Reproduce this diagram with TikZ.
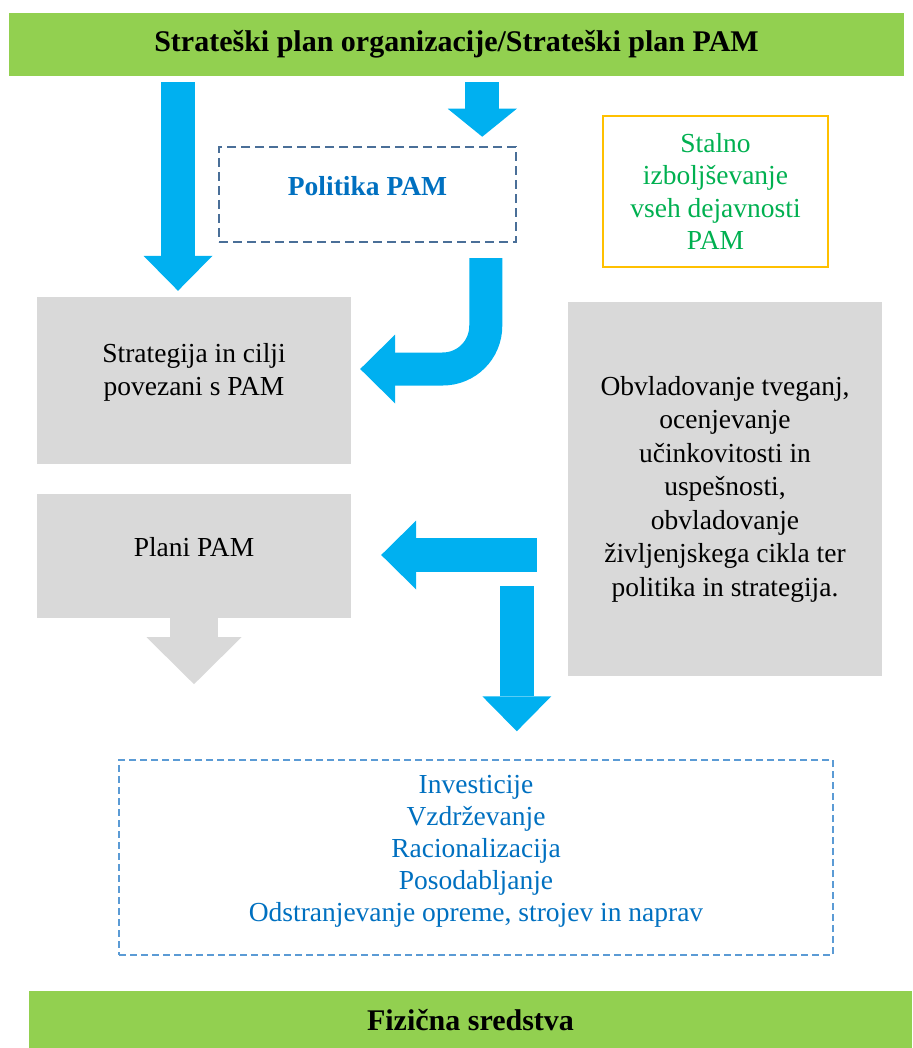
\documentclass[tikz,border=0pt]{standalone}
\usepackage{fontspec}
\setmainfont{Liberation Serif}
\usetikzlibrary{arrows.meta,calc}

\definecolor{pamgreen}{HTML}{92D050}
\definecolor{pamblue}{HTML}{00B0F0}
\definecolor{pamgray}{HTML}{D9D9D9}
\definecolor{pamslate}{HTML}{4A6F98}
\definecolor{pamtext}{HTML}{0070C0}
\definecolor{pamlightblue}{HTML}{5B9BD5}
\definecolor{pamgold}{HTML}{FFC000}
\definecolor{pamtextgreen}{HTML}{00B050}

\begin{document}
\begin{tikzpicture}[x=1pt,y=-1pt,
  bar/.style={fill=pamgreen,inner sep=0pt,font=\fontsize{30}{36}\selectfont\bfseries},
  graybox/.style={fill=pamgray,inner sep=0pt},
  boxtext/.style={align=center,font=\fontsize{27.5}{33}\selectfont},
  blockarrow/.style={draw=pamblue,line width=34pt,-{Triangle[length=#1,width=69pt,line width=0pt]}},
  blockarrow/.default=35pt,
  grayarrow/.style={draw=pamgray,line width=48pt,-{Triangle[length=47pt,width=95pt,line width=0pt]}}]
\useasboundingbox (0,0) rectangle (912,1048);

% Green bars
\node[bar,minimum width=895pt,minimum height=63pt] (plan) at (456.5,44.5) {Strateški plan organizacije/Strateški plan PAM};
\node[bar,minimum width=883pt,minimum height=59pt] (sredstva) at (470.5,1020.5) {Fizična sredstva};

% Policy and improvement boxes
\node[draw=pamslate,line width=2.5pt,dash pattern=on 9pt off 5pt,minimum width=297pt,minimum height=95pt] (politika) at (367.5,194.5) {};
\node[text=pamtext,font=\fontsize{27.5}{33}\selectfont\bfseries] (politika-text) at ([yshift=8pt]politika.center) {Politika PAM};
\node[draw=pamgold,line width=2.5pt,minimum width=225pt,minimum height=151pt,boxtext,text=pamtextgreen,font=\fontsize{27.5}{32.5}\selectfont] (stalno) at (715.5,191.5) {Stalno\\izboljševanje\\vseh dejavnosti\\PAM};

% Gray boxes
\node[graybox,minimum width=314pt,minimum height=167pt] (strategija) at (194,380.5) {};
\node[boxtext] (strategija-text) at ([yshift=8pt]strategija.center) {Strategija in cilji\\povezani s PAM};
\node[graybox,minimum width=314pt,minimum height=124pt] (plani) at (194,556) {};
\node[boxtext] (plani-text) at ([yshift=9pt]plani.center) {Plani PAM};
\node[graybox,boxtext,font=\fontsize{27.5}{33.5}\selectfont,minimum width=314pt,minimum height=374pt] (obvladovanje) at (725,489) {Obvladovanje tveganj,\\ocenjevanje\\učinkovitosti in\\uspešnosti,\\obvladovanje\\življenjskega cikla ter\\politika in strategija.};

% Activities
\node[draw=pamlightblue,line width=1.5pt,dash pattern=on 7pt off 4pt,minimum width=714pt,minimum height=195pt] (dejavnosti) at (476,857.5) {};
\node[boxtext,text=pamtext,font=\fontsize{27.5}{32}\selectfont] (dejavnosti-text) at ([yshift=6pt]dejavnosti.center) {Investicije\\Vzdrževanje\\Racionalizacija\\Posodabljanje\\Odstranjevanje opreme, strojev in naprav};

% Block arrows
\draw[blockarrow] ($(strategija.north |- plan.south)+(-16,6)$) -- ($(strategija.north)+(-16,-6)$);
\draw[blockarrow=28pt] ($(politika.north east |- plan.south)+(-35,6)$) -- ($(politika.north east)+(-35,-9)$);
\draw[blockarrow,line width=33pt,rounded corners=43pt] ($(politika.south east)+(-31.5,15)$) |- ($(strategija.east)+(9,-11.5)$);
\draw[blockarrow] ($(obvladovanje.west |- plani.east)+(-31,-1)$) -- ($(plani.east)+(30,-1)$);
\draw[blockarrow] ($(obvladovanje.west |- plani.south)+(-51,-32)$) -- ($(obvladovanje.west |- dejavnosti.north)+(-51,-28)$);
\draw[grayarrow] (plani.south) -- ++(0,66);
\end{tikzpicture}
\end{document}
